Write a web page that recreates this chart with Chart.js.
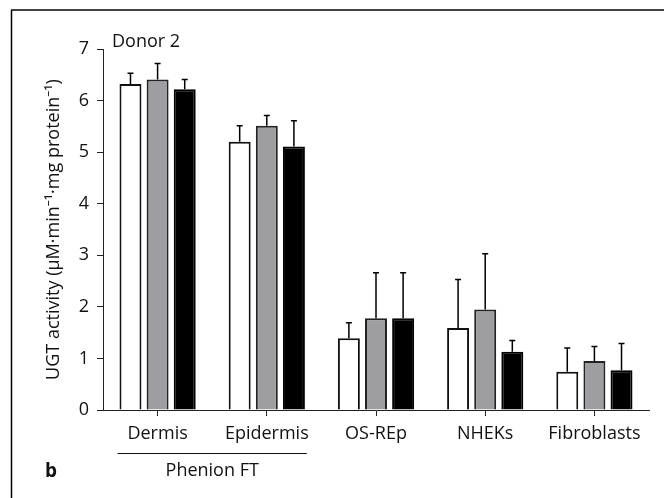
<!DOCTYPE html>
<html>
<head>
<meta charset="utf-8">
<script src="https://cdn.jsdelivr.net/npm/chart.js@4.4.0/dist/chart.umd.min.js"></script>
<style>
  html, body { margin: 0; padding: 0; background: #fff; }
  #wrap { width: 664px; height: 498px; }
</style>
</head>
<body>
<div id="wrap"><canvas id="ugtChart" width="664" height="498"></canvas></div>
<script>
  // Donor 2 - UGT activity
  const categories = ['Dermis', 'Epidermis', 'OS-REp', 'NHEKs', 'Fibroblasts'];
  const yTicks = [0, 1, 2, 3, 4, 5, 6, 7];
  const whiteVals = [6.32, 5.20, 1.39, 1.59, 0.74];
  const grayVals  = [6.41, 5.51, 1.78, 1.95, 0.95];
  const blackVals = [6.22, 5.11, 1.78, 1.13, 0.77];
  const whiteErr = [0.21, 0.31, 0.30, 0.94, 0.46];
  const grayErr  = [0.31, 0.20, 0.88, 1.08, 0.28];
  const blackErr = [0.19, 0.50, 0.88, 0.22, 0.52];
  const yTitle = 'UGT activity (µM·min⁻¹·mg protein⁻¹)';

  const FONT = "'Open Sans', 'Noto Sans', sans-serif";

  // error bars (upper only) + extra text and frame
  const extras = {
    id: 'extras',
    afterDatasetsDraw(chart) {
      const ctx = chart.ctx;
      const y = chart.scales.y;
      const errs = [whiteErr, grayErr, blackErr];
      ctx.save();
      ctx.strokeStyle = '#000';
      ctx.lineWidth = 1.5;
      chart.data.datasets.forEach((ds, di) => {
        const meta = chart.getDatasetMeta(di);
        meta.data.forEach((bar, i) => {
          const top = y.getPixelForValue(ds.data[i] + errs[di][i]);
          ctx.beginPath();
          ctx.moveTo(bar.x, bar.y);
          ctx.lineTo(bar.x, top);
          ctx.moveTo(bar.x - 3, top);
          ctx.lineTo(bar.x + 3, top);
          ctx.stroke();
        });
      });
      ctx.restore();
    },
    afterDraw(chart) {
      const ctx = chart.ctx;
      const x = chart.scales.x;
      const area = chart.chartArea;
      ctx.save();
      // frame
      ctx.strokeStyle = '#444';
      ctx.lineWidth = 2;
      ctx.beginPath();
      ctx.moveTo(11, 10);
      ctx.lineTo(664, 10);
      ctx.stroke();
      ctx.strokeStyle = '#000';
      ctx.lineWidth = 1.5;
      ctx.beginPath();
      ctx.moveTo(11.5, 10);
      ctx.lineTo(11.5, 498);
      ctx.stroke();

      ctx.fillStyle = '#111';
      ctx.font = '18px ' + FONT;
      ctx.textBaseline = 'alphabetic';
      ctx.textAlign = 'left';
      ctx.fillText('Donor 2', 112, 47);

      // y axis title, rotated
      ctx.save();
      ctx.translate(59, (area.top + area.bottom) / 2);
      ctx.rotate(-Math.PI / 2);
      ctx.textAlign = 'center';
      ctx.fillText(yTitle, 0, 0);
      ctx.restore();

      // Phenion FT bracket line
      const x0 = x.getPixelForValue(0), x1 = x.getPixelForValue(1);
      ctx.strokeStyle = '#111';
      ctx.lineWidth = 1;
      ctx.beginPath();
      ctx.moveTo(x0 - 40, 453.5);
      ctx.lineTo(x1 + 40, 453.5);
      ctx.stroke();
      ctx.textAlign = 'center';
      ctx.fillText('Phenion FT', (x0 + x1) / 2, 476);

      ctx.textAlign = 'left';
      ctx.font = 'bold 19px ' + FONT;
      ctx.fillText('b', 45, 477);
      ctx.restore();
    }
  };

  const ctx = document.getElementById('ugtChart').getContext('2d');
  new Chart(ctx, {
    type: 'bar',
    data: {
      labels: categories,
      datasets: [
        { label: 'white', data: whiteVals, backgroundColor: '#ffffff', borderColor: '#111', borderWidth: 2 },
        { label: 'gray', data: grayVals, backgroundColor: '#9e9ea2', borderColor: '#222', borderWidth: 2 },
        { label: 'black', data: blackVals, backgroundColor: '#000000', borderColor: '#000', borderWidth: 2 }
      ]
    },
    options: {
      responsive: false,
      animation: false,
      devicePixelRatio: 1,
      layout: { padding: { left: 0, top: 49, right: 15, bottom: 0 } },
      datasets: { bar: { categoryPercentage: 0.745, barPercentage: 0.81 } },
      plugins: { legend: { display: false }, tooltip: { enabled: false } },
      scales: {
        x: {
          offset: true,
          grid: { offset: false, drawOnChartArea: false, tickLength: 6, color: '#222' },
          border: { color: '#222', width: 1 },
          ticks: { color: '#111', padding: 7, font: { family: FONT, size: 18 } },
          afterFit: s => { s.height = 88; }
        },
        y: {
          min: 0, max: 7,
          afterBuildTicks: s => { s.ticks = yTicks.map(v => ({ value: v })); },
          grid: { drawOnChartArea: false, tickLength: 6, color: '#222' },
          border: { color: '#222', width: 1 },
          ticks: { color: '#111', padding: 8, font: { family: FONT, size: 18 } },
          afterFit: s => { s.width = 103; }
        }
      }
    },
    plugins: [extras]
  });
</script>
</body>
</html>
